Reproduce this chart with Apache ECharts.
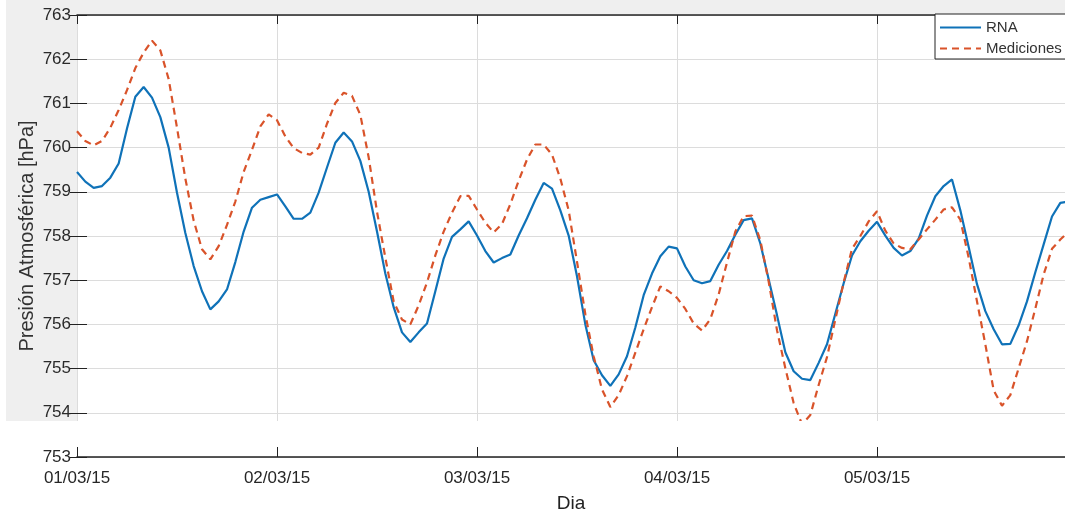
<!DOCTYPE html>
<html>
<head>
<meta charset="utf-8">
<script src="https://cdn.jsdelivr.net/npm/echarts@6/dist/echarts.min.js"></script>
<style>
  html, body { margin: 0; padding: 0; background: #ffffff; }
  #chart { width: 1065px; height: 518px; }
</style>
</head>
<body>
<div id="chart"></div>
<script>
// Hourly pressure readings starting 01/03/15 00:00 (hour index = position in array)
const rna = [
  759.45, 759.23, 759.09, 759.13, 759.32, 759.64, 760.43, 761.15, 761.37, 761.13,
  760.69, 760.00, 758.98, 758.07, 757.32, 756.75, 756.34, 756.52, 756.79, 757.41,
  758.10, 758.64, 758.82, 758.88, 758.94, 758.67, 758.39, 758.39, 758.53, 758.98,
  759.55, 760.11, 760.34, 760.14, 759.70, 759.00, 758.10, 757.15, 756.39, 755.82,
  755.60, 755.82, 756.02, 756.75, 757.49, 757.98, 758.15, 758.33, 758.01, 757.66,
  757.40, 757.50, 757.58, 758.01, 758.40, 758.82, 759.20, 759.07, 758.58, 758.01,
  757.09, 756.00, 755.19, 754.85, 754.61, 754.87, 755.28, 755.93, 756.66, 757.15,
  757.54, 757.76, 757.72, 757.31, 757.00, 756.93, 756.98, 757.35, 757.66, 758.03,
  758.36, 758.40, 757.83, 757.02, 756.21, 755.37, 754.94, 754.77, 754.74, 755.13,
  755.55, 756.24, 756.93, 757.56, 757.88, 758.12, 758.32, 758.01, 757.73, 757.56,
  757.66, 757.94, 758.46, 758.90, 759.13, 759.28, 758.58, 757.75, 756.91, 756.30,
  755.89, 755.55, 755.56, 755.98, 756.52, 757.18, 757.81, 758.44, 758.75, 758.78
];
const mediciones = [
  760.37, 760.15, 760.05, 760.15, 760.45, 760.85, 761.30, 761.80, 762.15, 762.42,
  762.20, 761.55, 760.45, 759.30, 758.35, 757.70, 757.47, 757.77, 758.25, 758.78,
  759.45, 759.95, 760.48, 760.75, 760.62, 760.25, 759.99, 759.88, 759.84, 760.00,
  760.54, 761.01, 761.24, 761.17, 760.74, 759.78, 758.55, 757.51, 756.52, 756.11,
  756.00, 756.43, 756.95, 757.56, 758.10, 758.53, 758.90, 758.91, 758.60, 758.30,
  758.08, 758.27, 758.72, 759.25, 759.73, 760.07, 760.07, 759.84, 759.30, 758.58,
  757.42, 756.23, 755.28, 754.53, 754.13, 754.40, 754.83, 755.36, 755.89, 756.39,
  756.86, 756.75, 756.60, 756.35, 756.02, 755.86, 756.12, 756.68, 757.40, 758.10,
  758.45, 758.46, 757.90, 756.97, 755.87, 755.01, 754.22, 753.74, 753.95, 754.63,
  755.26, 756.11, 756.95, 757.71, 758.00, 758.33, 758.56, 758.12, 757.83, 757.73,
  757.70, 757.92, 758.15, 758.37, 758.60, 758.65, 758.37, 757.51, 756.52, 755.55,
  754.51, 754.16, 754.40, 755.01, 755.62, 756.36, 757.13, 757.71, 757.92, 758.10
];
const dayLabels = ['01/03/15', '02/03/15', '03/03/15', '04/03/15', '05/03/15'];
const seriesNames = ['RNA', 'Mediciones'];

const FONT = '"Liberation Sans", Arial, sans-serif';
const HOURS_SHOWN = 118.56;

const toPairs = arr => arr.map((v, i) => [i, v]);

const chart = echarts.init(document.getElementById('chart'), null, { renderer: 'canvas' });

chart.setOption({
  animation: false,
  backgroundColor: '#ffffff',
  textStyle: { fontFamily: FONT },
  grid: { left: 77, right: 0, top: 15, bottom: 60, containLabel: false },
  graphic: {
    elements: [
      // light grey figure margin on the left and top
      { type: 'rect', left: 6, top: 0, z: -10, shape: { width: 71, height: 421 }, style: { fill: '#efefef' } },
      { type: 'rect', left: 6, top: 0, z: -10, shape: { width: 1059, height: 14 }, style: { fill: '#efefef' } },
      // blank band just above the lower axis
      { type: 'rect', left: 0, top: 421, z: 100, shape: { width: 1065, height: 26 }, style: { fill: '#ffffff' } }
    ]
  },
  legend: {
    orient: 'vertical',
    left: 935,
    top: 14,
    padding: [6, 30, 3, 4],
    itemGap: 6,
    itemWidth: 41,
    itemHeight: 16,
    backgroundColor: '#ffffff',
    borderColor: '#222222',
    borderWidth: 1,
    borderRadius: 0,
    data: seriesNames,
    itemStyle: { opacity: 0 },
    textStyle: { fontFamily: FONT, fontSize: 15, color: '#333333' }
  },
  xAxis: [
    {
      type: 'value',
      position: 'bottom',
      min: 0,
      max: HOURS_SHOWN,
      interval: 24,
      name: 'Dia',
      nameLocation: 'middle',
      nameGap: 37,
      nameTextStyle: { fontFamily: FONT, fontSize: 19, color: '#222222' },
      axisLine: { show: true, lineStyle: { color: '#222222', width: 1.5 } },
      axisTick: { show: true, inside: true, length: 10, lineStyle: { color: '#222222' } },
      axisLabel: {
        margin: 13,
        fontFamily: FONT,
        fontSize: 17,
        color: '#262626',
        showMaxLabel: false,
        formatter: v => (v % 24 === 0 ? (dayLabels[v / 24] || '') : '')
      },
      splitLine: { show: true, lineStyle: { color: '#dcdcdc', width: 1 } }
    },
    {
      type: 'value',
      position: 'top',
      min: 0,
      max: HOURS_SHOWN,
      interval: 24,
      axisLine: { show: true, lineStyle: { color: '#222222', width: 1.5 } },
      axisTick: { show: true, inside: true, length: 9, lineStyle: { color: '#222222' } },
      axisLabel: { show: false },
      splitLine: { show: false }
    }
  ],
  yAxis: [
    {
      type: 'value',
      position: 'left',
      min: 753,
      max: 763,
      interval: 1,
      name: 'Presión Atmosférica [hPa]',
      nameLocation: 'middle',
      nameGap: 40,
      nameMoveOverlap: false,
      nameTextStyle: { fontFamily: FONT, fontSize: 20, color: '#333333' },
      axisLine: { show: false },
      axisTick: { show: true, inside: true, length: 10, lineStyle: { color: '#222222' } },
      axisLabel: { margin: 6, fontFamily: FONT, fontSize: 17, color: '#2a2a2a' },
      splitLine: { show: true, lineStyle: { color: '#dcdcdc', width: 1 } }
    },
    {
      type: 'value',
      position: 'right',
      min: 753,
      max: 763,
      interval: 1,
      axisLine: { show: false },
      axisTick: { show: true, inside: true, length: 7, lineStyle: { color: '#222222' } },
      axisLabel: { show: false },
      splitLine: { show: false }
    }
  ],
  series: [
    {
      name: seriesNames[0],
      type: 'line',
      xAxisIndex: 0,
      yAxisIndex: 0,
      data: toPairs(rna),
      showSymbol: false,
      symbol: 'none',
      color: '#0f72b8',
      lineStyle: { color: '#0f72b8', width: 2.2 },
      z: 3
    },
    {
      name: seriesNames[1],
      type: 'line',
      xAxisIndex: 0,
      yAxisIndex: 0,
      data: toPairs(mediciones),
      showSymbol: false,
      symbol: 'none',
      color: '#d9532a',
      lineStyle: { color: '#d9532a', width: 2.2, type: [7, 5] },
      z: 4
    }
  ]
});
</script>
</body>
</html>
